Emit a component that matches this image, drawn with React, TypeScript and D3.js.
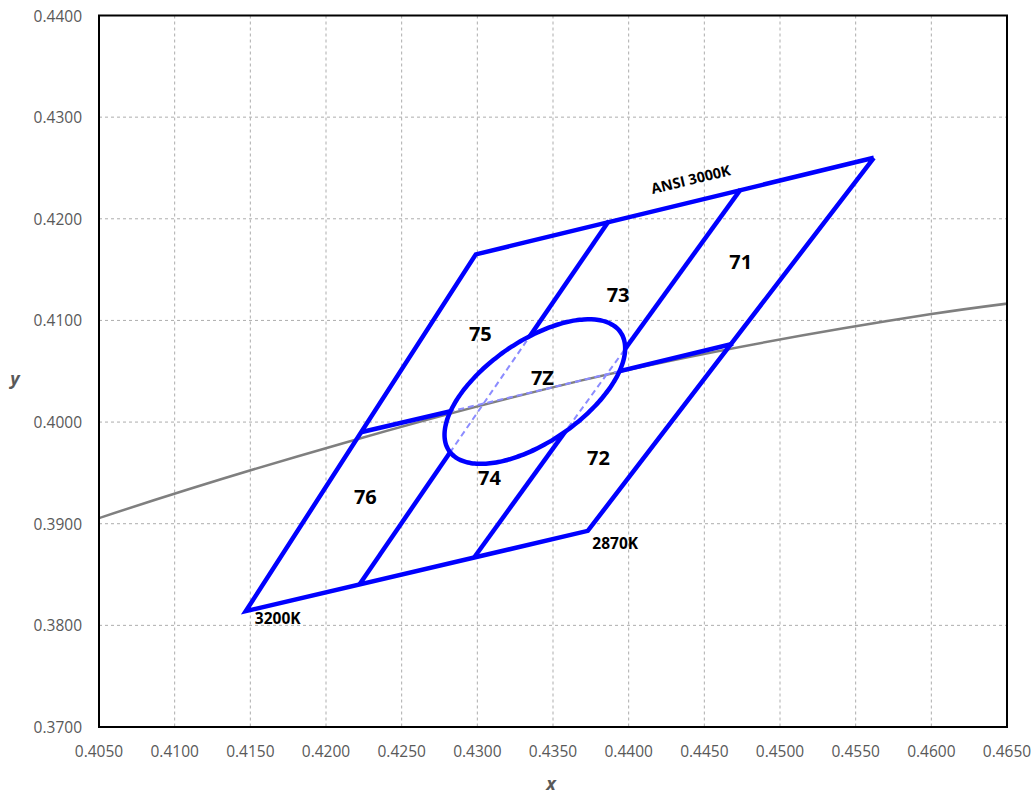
import React from "react";
import * as d3 from "d3";

const WIDTH = 1035;
const HEIGHT = 794;

const xTicks = [0.405, 0.41, 0.415, 0.42, 0.425, 0.43, 0.435, 0.44, 0.445, 0.45, 0.455, 0.46, 0.465];
const yTicks = [0.37, 0.38, 0.39, 0.4, 0.41, 0.42, 0.43, 0.44];

// ANSI 3000K quadrangle (x, y)
const quadX = [0.4562, 0.4299, 0.4147, 0.4373, 0.4562];
const quadY = [0.426, 0.4165, 0.3814, 0.3893, 0.426];

// inner bin dividers
const divLeftX = [0.4222, 0.4387];
const divLeftY = [0.384, 0.4198];
const divRightX = [0.4298, 0.4474];
const divRightY = [0.3867, 0.4229];
const midX = [0.4223, 0.4338, 0.4469];
const midY = [0.399, 0.403, 0.4077];

// Planckian locus (CCT, x, y)
const locusCCT = [2500, 2700, 3000, 3500, 4000];
const locusX = [0.477, 0.4599, 0.4369, 0.4053, 0.3805];
const locusY = [0.4137, 0.4106, 0.4041, 0.3907, 0.3768];

// 7-step MacAdam ellipse for 3000K
const ellipseCenter = [0.4338, 0.403];
const ellipseA = 0.00834;
const ellipseB = 0.00408;
const ellipseThetaDeg = 53.22;

// bin labels
const binNames = ["71", "73", "75", "7Z", "72", "74", "76"];
const binX = [0.4474, 0.4393, 0.4302, 0.4343, 0.438, 0.4308, 0.4226];
const binY = [0.4158, 0.4126, 0.4087, 0.4044, 0.3965, 0.3945, 0.3927];

const cornerNames = ["3200K", "2870K"];
const cornerX = [0.4153, 0.4376];
const cornerY = [0.3807, 0.3881];

const ansiLabel = "ANSI 3000K";
const ansiPos = [0.4441, 0.4239];

const M = { left: 99, right: 1007, top: 15.5, bottom: 727 };

export default function App() {
  const x = d3.scaleLinear().domain([0.405, 0.465]).range([M.left, M.right]);
  const y = d3.scaleLinear().domain([0.37, 0.44]).range([M.bottom, M.top]);

  const line = d3
    .line<[number, number]>()
    .x((d) => x(d[0]))
    .y((d) => y(d[1]));

  const zip = (xs: number[], ys: number[]) => xs.map((v, i) => [v, ys[i]] as [number, number]);

  const locusPath = d3
    .line<[number, number]>()
    .x((d) => x(d[0]))
    .y((d) => y(d[1]))
    .curve(d3.curveCatmullRom)(zip(locusX, locusY));

  const th = (ellipseThetaDeg * Math.PI) / 180;
  const ellPts: [number, number][] = d3.range(0, 361, 3).map((deg) => {
    const t = (deg * Math.PI) / 180;
    const ex = ellipseA * Math.cos(t);
    const ey = ellipseB * Math.sin(t);
    return [
      ellipseCenter[0] + ex * Math.cos(th) - ey * Math.sin(th),
      ellipseCenter[1] + ex * Math.sin(th) + ey * Math.cos(th),
    ];
  });
  const ellPath = d3
    .line<[number, number]>()
    .x((d) => x(d[0]))
    .y((d) => y(d[1]))
    .curve(d3.curveCardinalClosed)(ellPts.slice(0, -1));

  const dividers = [zip(divLeftX, divLeftY), zip(divRightX, divRightY), zip(midX, midY)];

  const ansiAngle =
    (Math.atan2(y(quadY[0]) - y(quadY[1]), x(quadX[0]) - x(quadX[1])) * 180) / Math.PI;

  const fontSans = "'Open Sans', 'Noto Sans', sans-serif";

  return (
    <svg
      width={WIDTH}
      height={HEIGHT}
      style={{ position: "absolute", left: 0, top: 0, background: "#fff" }}
    >
      <defs>
        <clipPath id="plotClip">
          <rect x={M.left} y={M.top} width={M.right - M.left} height={M.bottom - M.top} />
        </clipPath>
        <clipPath id="ellClip">
          <path d={ellPath || ""} />
        </clipPath>
        <mask id="outsideEll">
          <rect x={0} y={0} width={WIDTH} height={HEIGHT} fill="white" />
          <path d={ellPath || ""} fill="black" />
        </mask>
      </defs>

      {/* grid */}
      <g stroke="#adadad" strokeWidth={1} strokeDasharray="3,3">
        {xTicks.slice(1, -1).map((t) => (
          <line key={"gx" + t} x1={x(t)} x2={x(t)} y1={M.top} y2={M.bottom} />
        ))}
        {yTicks.slice(1, -1).map((t) => (
          <line key={"gy" + t} x1={M.left} x2={M.right} y1={y(t)} y2={y(t)} />
        ))}
      </g>

      {/* Planckian locus */}
      <g clipPath="url(#plotClip)">
        <path d={locusPath || ""} fill="none" stroke="#7f7f7f" strokeWidth={2.5} />
      </g>

      {/* outer quadrangle */}
      <path
        d={line(zip(quadX, quadY)) || ""}
        fill="none"
        stroke="#0000ff"
        strokeWidth={4.5}
        strokeLinejoin="miter"
      />

      {/* dividers outside ellipse */}
      <g mask="url(#outsideEll)">
        {dividers.map((d, i) => (
          <path key={"dv" + i} d={line(d) || ""} fill="none" stroke="#0000ff" strokeWidth={4.5} />
        ))}
      </g>
      {/* dividers inside ellipse (dashed) */}
      <g clipPath="url(#ellClip)">
        {dividers.map((d, i) => (
          <path
            key={"dd" + i}
            d={line(d) || ""}
            fill="none"
            stroke="#8c8cff"
            strokeWidth={2}
            strokeDasharray="6,4"
          />
        ))}
      </g>

      {/* ellipse */}
      <path d={ellPath || ""} fill="none" stroke="#0000ff" strokeWidth={4.5} />

      {/* bin labels */}
      <g fontFamily={fontSans} fontWeight="bold" fontSize={20} fill="#000" textAnchor="middle">
        {binNames.map((n, i) => (
          <text key={n} x={x(binX[i])} y={y(binY[i])} dominantBaseline="central">
            {n}
          </text>
        ))}
      </g>
      <g fontFamily={fontSans} fontWeight="bold" fontSize={15.5} fill="#000">
        {cornerNames.map((n, i) => (
          <text key={n} x={x(cornerX[i])} y={y(cornerY[i])} dominantBaseline="central">
            {n}
          </text>
        ))}
        <text
          x={x(ansiPos[0])}
          y={y(ansiPos[1])}
          textAnchor="middle"
          dominantBaseline="central"
          fontSize={14.5}
          transform={`rotate(${ansiAngle}, ${x(ansiPos[0])}, ${y(ansiPos[1])})`}
        >
          {ansiLabel}
        </text>
      </g>

      {/* frame */}
      <rect
        x={M.left}
        y={M.top}
        width={M.right - M.left}
        height={M.bottom - M.top}
        fill="none"
        stroke="#000"
        strokeWidth={2}
      />

      {/* tick labels */}
      <g fontFamily={fontSans} fontSize={15.5} fill="#595959">
        {yTicks.map((t) => (
          <text key={"ty" + t} x={82} y={y(t)} textAnchor="end" dominantBaseline="central">
            {t.toFixed(4)}
          </text>
        ))}
        {xTicks.map((t) => (
          <text key={"tx" + t} x={x(t)} y={751} textAnchor="middle" dominantBaseline="central">
            {t.toFixed(4)}
          </text>
        ))}
      </g>

      {/* axis titles */}
      <g fontFamily={fontSans} fontSize={18} fontWeight="bold" fontStyle="italic" fill="#595959">
        <text x={15} y={378} textAnchor="middle" dominantBaseline="central">
          y
        </text>
        <text x={551} y={783} textAnchor="middle" dominantBaseline="central">
          x
        </text>
      </g>
    </svg>
  );
}
